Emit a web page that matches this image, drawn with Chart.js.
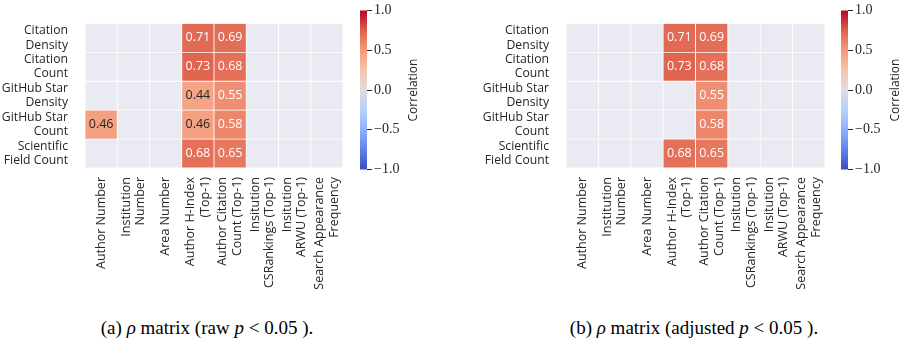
<!DOCTYPE html>
<html>
<head>
<meta charset="utf-8">
<script src="https://cdn.jsdelivr.net/npm/chart.js@4.4.1/dist/chart.umd.min.js"></script>
<style>
  body { margin: 0; background: #fff; }
  #wrap { position: relative; width: 901px; height: 344px; overflow: hidden; }
  canvas { position: absolute; top: 0; }
  .cap { position: absolute; top: 317px; font-family: "Liberation Serif", serif; font-size: 19px; color: #000; white-space: nowrap; transform: translateX(-50%); }
</style>
</head>
<body>
<div id="wrap">
  <canvas id="heatA" width="350" height="300" style="left:0px"></canvas>
  <canvas id="barA" width="100" height="180" style="left:350px"></canvas>
  <canvas id="heatB" width="350" height="300" style="left:480px"></canvas>
  <canvas id="barB" width="70" height="180" style="left:831px"></canvas>
  <div class="cap" style="left:207px">(a) <i>ρ</i> matrix (raw <i>p</i>&nbsp;&lt;&nbsp;0.05 ).</div>
  <div class="cap" style="left:694px">(b) <i>ρ</i> matrix (adjusted <i>p</i>&nbsp;&lt;&nbsp;0.05 ).</div>
</div>
<script>
// columns (x) and rows (y, top to bottom)
const columns = [
  ['Author Number'],
  ['Institution', 'Number'],
  ['Area Number'],
  ['Author H-Index', '(Top-1)'],
  ['Author Citation', 'Count (Top-1)'],
  ['Insitution', 'CSRankings (Top-1)'],
  ['Insitution', 'ARWU (Top-1)'],
  ['Search Appearance', 'Frequency']
]
const rows = [
  ['Citation', 'Density'],
  ['Citation', 'Count'],
  ['GitHub Star', 'Density'],
  ['GitHub Star', 'Count'],
  ['Scientific', 'Field Count']
]
const colorbarTicks = [-1, -0.5, 0, 0.5, 1]

// (a) raw p < 0.05
const rawCitationDensity   = [null, null, null, 0.71, 0.69, null, null, null]
const rawCitationCount     = [null, null, null, 0.73, 0.68, null, null, null]
const rawStarDensity       = [null, null, null, 0.44, 0.55, null, null, null]
const rawStarCount         = [0.46, null, null, 0.46, 0.58, null, null, null]
const rawFieldCount        = [null, null, null, 0.68, 0.65, null, null, null]

// (b) adjusted p < 0.05
const adjCitationDensity   = [null, null, null, 0.71, 0.69, null, null, null]
const adjCitationCount     = [null, null, null, 0.73, 0.68, null, null, null]
const adjStarDensity       = [null, null, null, null, 0.55, null, null, null]
const adjStarCount         = [null, null, null, null, 0.58, null, null, null]
const adjFieldCount        = [null, null, null, 0.68, 0.65, null, null, null]

const rawMatrix = [rawCitationDensity, rawCitationCount, rawStarDensity, rawStarCount, rawFieldCount]
const adjMatrix = [adjCitationDensity, adjCitationCount, adjStarDensity, adjStarCount, adjFieldCount]

// coolwarm colormap stops
const coolwarm = [
  [0.0, 59, 76, 192], [0.125, 98, 130, 234], [0.25, 141, 176, 254],
  [0.375, 184, 208, 249], [0.5, 221, 221, 221], [0.625, 245, 196, 173],
  [0.75, 244, 154, 123], [0.875, 222, 96, 77], [1.0, 180, 4, 38]
]
const EMPTY = '#eaeaf2'
const DARK = '#262626'
const SANS = '"Open Sans", sans-serif'

const cmap = (v) => {
  const t = (v + 1) / 2
  for (let i = 1; i < coolwarm.length; i++) {
    if (t <= coolwarm[i][0]) {
      const a = coolwarm[i - 1], b = coolwarm[i]
      const f = (t - a[0]) / (b[0] - a[0])
      return [1, 2, 3].map(k => Math.round(a[k] + (b[k] - a[k]) * f))
    }
  }
  return coolwarm[coolwarm.length - 1].slice(1)
}
const rgb = (c) => `rgb(${c[0]},${c[1]},${c[2]})`
const isLight = (c) => {
  const lin = c.map(x => { x /= 255; return x <= 0.03928 ? x / 12.92 : Math.pow((x + 0.055) / 1.055, 2.4) })
  return 0.2126 * lin[0] + 0.7152 * lin[1] + 0.0722 * lin[2] > 0.408
}

// writes the numbers into the cells
const annotate = {
  id: 'annotate',
  afterDatasetsDraw(chart) {
    const ctx = chart.ctx
    ctx.save()
    ctx.font = '12.5px ' + SANS
    ctx.textAlign = 'center'
    ctx.textBaseline = 'middle'
    chart.data.datasets.forEach((ds, di) => {
      const meta = chart.getDatasetMeta(di)
      ds.rho.forEach((v, i) => {
        if (v === null) return
        const el = meta.data[i]
        ctx.fillStyle = isLight(cmap(v)) ? DARK : '#fff'
        ctx.fillText(v.toFixed(2), el.x, (el.y + el.base) / 2)
      })
    })
    ctx.restore()
  }
}

// rotated, centred multi-line column labels
const columnLabels = {
  id: 'columnLabels',
  afterDraw(chart) {
    const ctx = chart.ctx
    const xs = chart.scales.x
    const lh = 14.5
    ctx.save()
    ctx.font = '12.5px ' + SANS
    ctx.fillStyle = DARK
    ctx.textAlign = 'right'
    ctx.textBaseline = 'middle'
    columns.forEach((lines, i) => {
      const x0 = xs.getPixelForValue(i)
      lines.forEach((line, k) => {
        const x = x0 + (k - (lines.length - 1) / 2) * lh
        ctx.save()
        ctx.translate(x, chart.chartArea.bottom + 9)
        ctx.rotate(-Math.PI / 2)
        ctx.fillText(line, 0, 0)
        ctx.restore()
      })
    })
    ctx.restore()
  }
}

const heatmap = (id, matrix, yWidth, padRight) => {
  // bottom row first so the stack reads top to bottom like the table
  const datasets = matrix.slice().reverse().map(rowVals => ({
    rho: rowVals,
    data: rowVals.map(() => 1),
    backgroundColor: rowVals.map(v => v === null ? EMPTY : rgb(cmap(v))),
    borderColor: '#fff',
    borderWidth: 0.75,
    borderSkipped: false,
    barPercentage: 1,
    categoryPercentage: 1
  }))
  return new Chart(document.getElementById(id), {
    type: 'bar',
    data: { labels: columns.map(c => c.join(' ')), datasets },
    options: {
      responsive: false,
      devicePixelRatio: 1,
      animation: false,
      layout: { padding: { top: 8, right: padRight, left: 0, bottom: 0 } },
      plugins: { legend: { display: false }, tooltip: { enabled: false } },
      scales: {
        x: {
          stacked: true,
          grid: { display: false },
          border: { display: false },
          ticks: { display: false },
          afterFit: s => { s.height = 132 }
        },
        y: {
          stacked: true,
          min: 0,
          max: rows.length,
          grid: { display: false },
          border: { display: false },
          afterBuildTicks: s => { s.ticks = rows.map((r, i) => ({ value: i + 0.5 })) },
          ticks: {
            padding: 9,
            color: DARK,
            font: { family: SANS, size: 12.2, lineHeight: 1.18 },
            callback: (v) => rows[rows.length - 1 - Math.floor(v)]
          },
          afterFit: s => { s.width = yWidth }
        }
      }
    },
    plugins: [annotate, columnLabels]
  })
}

// draws the colorbar title reading bottom to top
const cbTitle = {
  id: 'cbTitle',
  afterDraw(chart, args, opts) {
    const ctx = chart.ctx
    const a = chart.chartArea
    ctx.save()
    ctx.font = '12px ' + SANS
    ctx.fillStyle = DARK
    ctx.textAlign = 'center'
    ctx.textBaseline = 'middle'
    ctx.translate(opts.x, (a.top + a.bottom) / 2)
    ctx.rotate(-Math.PI / 2)
    ctx.fillText('Correlation', 0, 0)
    ctx.restore()
  }
}

const colorbar = (id, yWidth, titleX) => new Chart(document.getElementById(id), {
  type: 'bar',
  data: {
    labels: ['Correlation'],
    datasets: [{
      data: [[colorbarTicks[0], colorbarTicks[colorbarTicks.length - 1]]],
      barPercentage: 1,
      categoryPercentage: 1,
      backgroundColor: (c) => {
        const area = c.chart.chartArea
        if (!area) return EMPTY
        const g = c.chart.ctx.createLinearGradient(0, area.bottom, 0, area.top)
        coolwarm.forEach(s => g.addColorStop(s[0], `rgb(${s[1]},${s[2]},${s[3]})`))
        return g
      }
    }]
  },
  options: {
    responsive: false,
    devicePixelRatio: 1,
    animation: false,
    layout: { padding: { top: 7, bottom: 10, left: 10, right: 0 } },
    plugins: { legend: { display: false }, tooltip: { enabled: false }, cbTitle: { x: titleX } },
    scales: {
      x: { display: false },
      y: {
        position: 'right',
        min: -1,
        max: 1,
        border: { display: false },
        grid: { drawOnChartArea: false, drawTicks: true, tickLength: 5, color: DARK, lineWidth: 1 },
        afterBuildTicks: s => { s.ticks = colorbarTicks.map(v => ({ value: v })) },
        ticks: {
          padding: 2,
          color: DARK,
          font: { family: '"Liberation Serif", serif', size: 14 },
          callback: v => (v < 0 ? '\u2212' : '') + Math.abs(v).toFixed(1)
        },
        afterFit: s => { s.width = yWidth }
      }
    }
  },
  plugins: [cbTitle]
})

heatmap('heatA', rawMatrix, 85, 7)
colorbar('barA', 83, 64)
heatmap('heatB', adjMatrix, 86, 5)
colorbar('barB', 53, 65)
</script>
</body>
</html>
